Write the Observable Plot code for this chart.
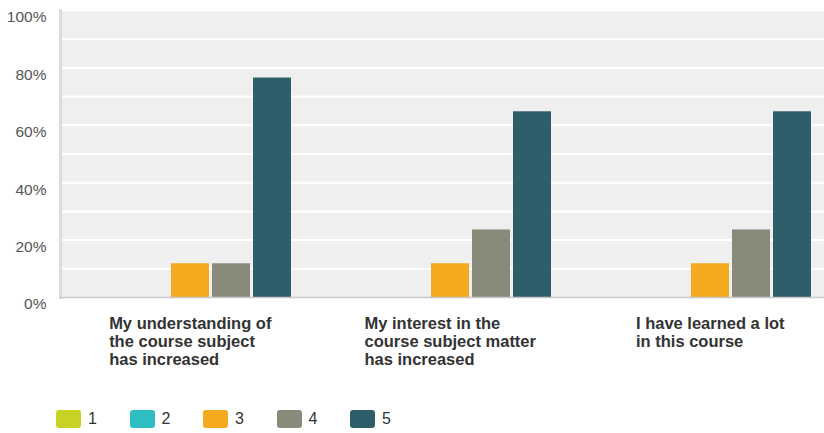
<!DOCTYPE html>
<html><head><meta charset="utf-8">
<script src="https://cdn.jsdelivr.net/npm/d3@7"></script>
<script src="https://cdn.jsdelivr.net/npm/@observablehq/plot@0.6"></script>
<style>
body{margin:0;background:#fff;font-family:"Liberation Sans",Arial,sans-serif;}
#wrap{width:824px;height:433px;overflow:hidden;position:relative;}
#wrap svg{display:block;max-width:none !important;}
.legend{display:flex;padding-left:56px;margin-top:33px;}
.item{display:flex;align-items:center;width:73.5px;font-size:16px;color:#333;font-family:"Liberation Sans",Arial,sans-serif;}
.sw{width:25px;height:18px;border-radius:3px;margin-right:7px;}
</style></head><body><div id="wrap"></div>
<script>
const categories = [
  "My understanding of the course subject has increased",
  "My interest in the course subject matter has increased",
  "I have learned a lot in this course"
];
const categoryLabels = [
  "My understanding of\nthe course subject\nhas increased",
  "My interest in the\ncourse subject matter\nhas increased",
  "I have learned a lot\nin this course"
];
const series = ["1", "2", "3", "4", "5"];
const seriesColors = ["#c6d324", "#2fbdc4", "#f5a91e", "#8a8a7b", "#2e5e6a"];
const values1 = [0, 0, 0];
const values2 = [0, 0, 0];
const values3 = [0.1176, 0.1176, 0.1176];
const values4 = [0.1176, 0.2353, 0.2353];
const values5 = [0.7647, 0.6471, 0.6471];
const yTicks = [0, 0.2, 0.4, 0.6, 0.8, 1];
const gridTicks = [0.1, 0.2, 0.3, 0.4, 0.5, 0.6, 0.7, 0.8, 0.9];

const allValues = [values1, values2, values3, values4, values5];
const data = categories.flatMap((c, i) => series.map((s, j) => ({category: c, series: s, value: allValues[j][i]})));
const labelOf = new Map(categories.map((c, i) => [c, categoryLabels[i]]));

const chart = Plot.plot({
  width: 840,
  height: 377,
  marginLeft: 60,
  marginRight: 0,
  marginTop: 10,
  marginBottom: 80,
  style: {fontFamily: '"Liberation Sans", Arial, sans-serif', background: "transparent", maxWidth: "none"},
  fx: {domain: categories, paddingInner: 0, paddingOuter: 0},
  x: {domain: series, paddingInner: 0.085, paddingOuter: 0.68, axis: null},
  y: {domain: [0, 1]},
  color: {domain: series, range: seriesColors},
  marks: [
    Plot.frame({fill: "#efefef", stroke: "none", shapeRendering: "crispEdges"}),
    Plot.gridY(gridTicks, {stroke: "#ffffff", strokeOpacity: 1, strokeWidth: 2}),
    Plot.frame({anchor: "left", facetAnchor: "left", stroke: "#dcdcdc", strokeWidth: 3}),
    Plot.barY(data, {fx: "category", x: "series", y: "value", fill: "series"}),
    Plot.ruleY([0], {stroke: "#c8c8c8", strokeWidth: 1.5}),
    Plot.axisY(yTicks, {tickFormat: d3.format(".0%"), tickSize: 0, tickPadding: 14, fontSize: 15.5, dy: 7, fill: "#555", label: null}),
    Plot.axisFx({anchor: "bottom", tickSize: 0, tickPadding: 19, fontSize: 16.5, fontWeight: "bold", fill: "#333", lineHeight: 1.09, tickFormat: d => labelOf.get(d), label: null})
  ]
});

const wrap = document.getElementById("wrap");
wrap.appendChild(chart);

chart.querySelectorAll('g[aria-label="fx-axis tick label"] text').forEach(t => {
  const w = t.getBBox().width;
  t.setAttribute("text-anchor", "start");
  const spans = t.querySelectorAll("tspan");
  if (spans.length) spans.forEach(s => s.setAttribute("x", -w / 2));
  else t.setAttribute("x", -w / 2);
});

const legend = document.createElement("div");
legend.className = "legend";
series.forEach((s, i) => {
  const item = document.createElement("div");
  item.className = "item";
  const sw = document.createElement("span");
  sw.className = "sw";
  sw.style.background = seriesColors[i];
  item.appendChild(sw);
  item.appendChild(document.createTextNode(s));
  legend.appendChild(item);
});
wrap.appendChild(legend);
</script></body></html>
